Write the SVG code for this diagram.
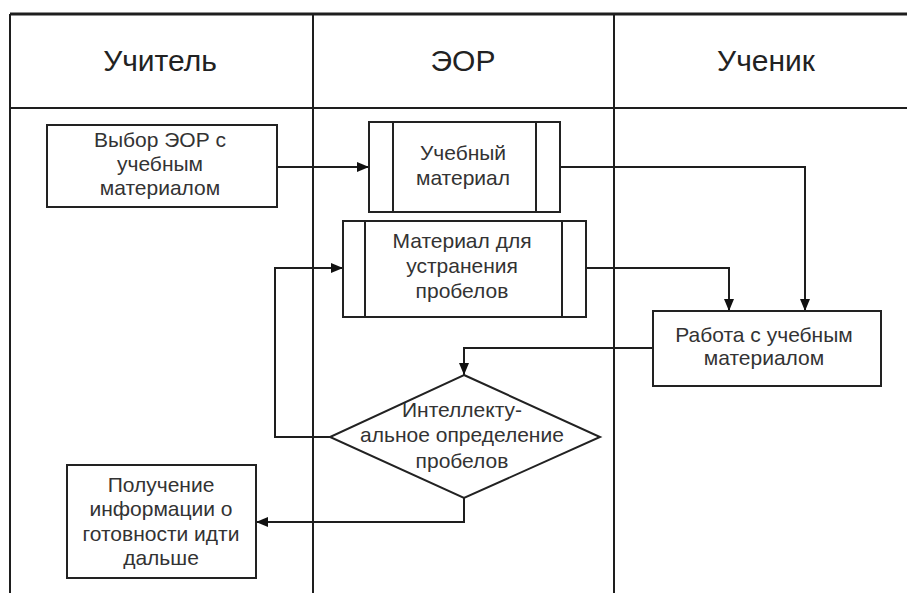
<svg xmlns="http://www.w3.org/2000/svg" width="907" height="593" viewBox="0 0 907 593">
<defs>
<style>
.lane{stroke:#1e1e1e;stroke-width:2;fill:none}
.box{fill:#fff;stroke:#222;stroke-width:2}
.sep{stroke:#222;stroke-width:2}
.con{fill:none;stroke:#1e1e1e;stroke-width:2}
.hd{font-family:"Liberation Sans",Arial,sans-serif;font-size:30px;fill:#222;text-anchor:middle}
.tx{font-family:"Liberation Sans",Arial,sans-serif;font-size:21px;fill:#333;text-anchor:middle}
</style>
<marker id="ah" viewBox="0 0 12 10" refX="12" refY="5" markerWidth="12" markerHeight="10" markerUnits="userSpaceOnUse" orient="auto">
<path d="M0,0 L12,5 L0,10 Z" fill="#111"/>
</marker>
</defs>
<rect width="907" height="593" fill="#fff"/>
<g id="lanes">
<line class="lane" x1="10" y1="14" x2="907" y2="14" style="stroke-width:3"/>
<line class="lane" x1="10" y1="108" x2="907" y2="108"/>
<line class="lane" x1="10" y1="14" x2="10" y2="593"/>
<line class="lane" x1="313" y1="14" x2="313" y2="593"/>
<line class="lane" x1="614" y1="14" x2="614" y2="593"/>
<text class="hd" x="160" y="71">Учитель</text>
<text class="hd" x="463" y="71">ЭОР</text>
<text class="hd" x="766" y="71">Ученик</text>
</g>
<g id="connectors">
<path class="con" d="M277,167 H369" marker-end="url(#ah)"/>
<path class="con" d="M560,167 H805 V311" marker-end="url(#ah)"/>
<path class="con" d="M586,268 H729 V311" marker-end="url(#ah)"/>
<path class="con" d="M653,348 H464 V375" marker-end="url(#ah)"/>
<path class="con" d="M330,437 H275 V268 H343" marker-end="url(#ah)"/>
<path class="con" d="M464,498 V522 H256" marker-end="url(#ah)"/>
</g>
<g id="n-vybor">
<rect class="box" x="47" y="125" width="230" height="82"/>
<text class="tx" x="160" y="147">Выбор ЭОР с</text>
<text class="tx" x="160" y="171">учебным</text>
<text class="tx" x="160" y="195">материалом</text>
</g>
<g id="n-uchebny">
<rect class="box" x="369" y="122" width="191" height="90"/>
<line class="sep" x1="393" y1="122" x2="393" y2="212"/>
<line class="sep" x1="536" y1="122" x2="536" y2="212"/>
<text class="tx" x="463" y="160">Учебный</text>
<text class="tx" x="463" y="185">материал</text>
</g>
<g id="n-material">
<rect class="box" x="343" y="221" width="243" height="96"/>
<line class="sep" x1="365" y1="221" x2="365" y2="317"/>
<line class="sep" x1="562" y1="221" x2="562" y2="317"/>
<text class="tx" x="462" y="248">Материал для</text>
<text class="tx" x="462" y="273">устранения</text>
<text class="tx" x="462" y="298">пробелов</text>
</g>
<g id="n-rabota">
<rect class="box" x="653" y="311" width="228" height="75"/>
<text class="tx" x="764" y="342">Работа с учебным</text>
<text class="tx" x="764" y="365">материалом</text>
</g>
<g id="n-diamond">
<polygon class="box" points="464,375 600,437 464,498 330,437"/>
<text class="tx" x="462" y="417">Интеллекту-</text>
<text class="tx" x="462" y="442">альное определение</text>
<text class="tx" x="462" y="468">пробелов</text>
</g>
<g id="n-poluchenie">
<rect class="box" x="67" y="465" width="189" height="113"/>
<text class="tx" x="161" y="492">Получение</text>
<text class="tx" x="161" y="516">информации о</text>
<text class="tx" x="161" y="541">готовности идти</text>
<text class="tx" x="161" y="565">дальше</text>
</g>
</svg>
